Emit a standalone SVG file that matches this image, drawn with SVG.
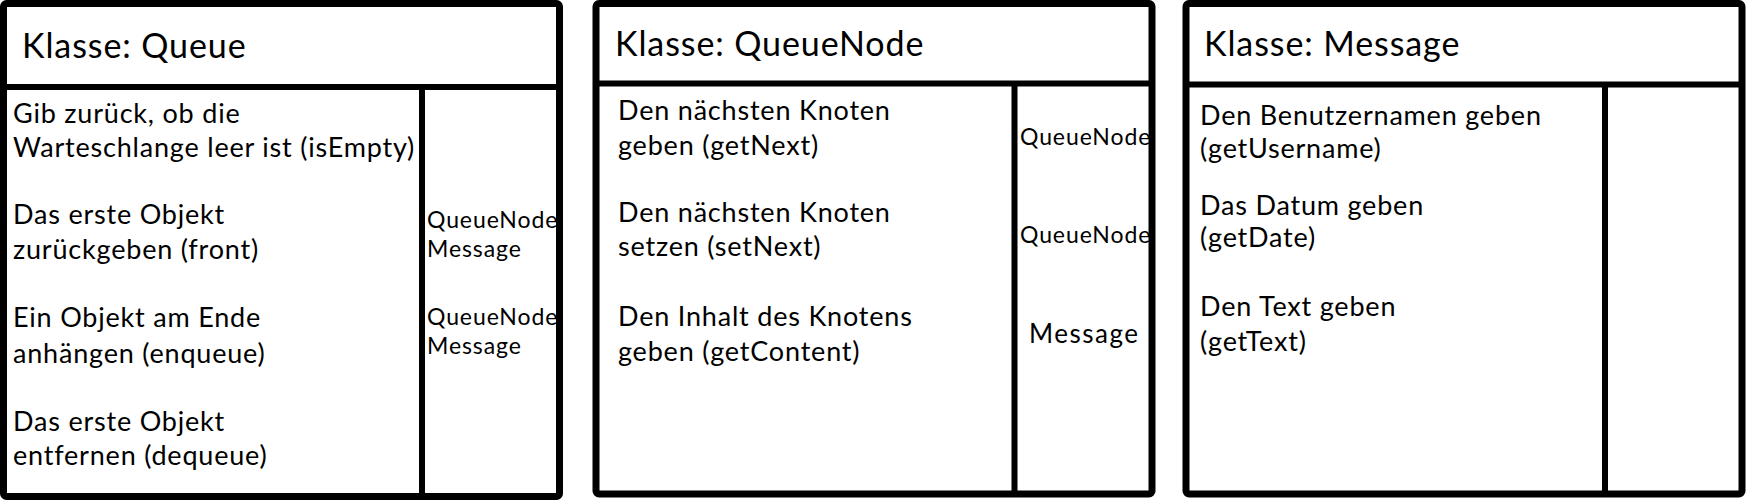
<svg xmlns="http://www.w3.org/2000/svg" width="1746" height="500" viewBox="0 0 1746 500">
<style>
.box{fill:#fff;stroke:#000;stroke-width:7;stroke-linejoin:round}
.div{stroke:#000;stroke-width:6;fill:none}
.title{font-family:Lato,"Liberation Sans",sans-serif;font-size:34px;letter-spacing:0.9px;fill:#000}
.body{font-family:Lato,"Liberation Sans",sans-serif;font-size:27px;letter-spacing:0.8px;fill:#000}
.type{font-family:Lato,"Liberation Sans",sans-serif;font-size:23px;letter-spacing:0.9px;fill:#000}
.type2{font-family:Lato,"Liberation Sans",sans-serif;font-size:26px;letter-spacing:1.5px;fill:#000}
</style>
<rect width="1746" height="500" fill="#fff"/>
<g id="queue">
<rect class="box" x="3.5" y="3.5" width="556" height="493" rx="3"/>
<line class="div" x1="3.5" y1="87" x2="559.5" y2="87"/>
<line class="div" x1="422" y1="87" x2="422" y2="496.5"/>
<text class="title" x="22" y="58">Klasse: Queue</text>
<text class="body" x="13" y="122.5">Gib zurück, ob die</text>
<text class="body" x="13" y="157">Warteschlange leer ist (isEmpty)</text>
<text class="body" x="13" y="224">Das erste Objekt</text>
<text class="body" x="13" y="259">zurückgeben (front)</text>
<text class="body" x="13" y="327">Ein Objekt am Ende</text>
<text class="body" x="13" y="363">anhängen (enqueue)</text>
<text class="body" x="13" y="431">Das erste Objekt</text>
<text class="body" x="13" y="465">entfernen (dequeue)</text>
<text class="type" x="427" y="228">QueueNode</text>
<text class="type" x="427" y="257">Message</text>
<text class="type" x="427" y="325">QueueNode</text>
<text class="type" x="427" y="354">Message</text>
</g>
<g id="queuenode">
<rect class="box" x="596" y="3.5" width="556" height="490.5" rx="3"/>
<line class="div" x1="596" y1="83.5" x2="1152" y2="83.5"/>
<line class="div" x1="1014.5" y1="83.5" x2="1014.5" y2="494"/>
<text class="title" x="615" y="56">Klasse: QueueNode</text>
<text class="body" x="618" y="120">Den nächsten Knoten</text>
<text class="body" x="618" y="155">geben (getNext)</text>
<text class="body" x="618" y="221.5">Den nächsten Knoten</text>
<text class="body" x="618" y="256">setzen (setNext)</text>
<text class="body" x="618" y="326">Den Inhalt des Knotens</text>
<text class="body" x="618" y="361">geben (getContent)</text>
<text class="type" x="1020" y="145">QueueNode</text>
<text class="type" x="1020" y="243">QueueNode</text>
<text class="type2" x="1029" y="343">Message</text>
</g>
<g id="message">
<rect class="box" x="1186" y="3.5" width="556" height="490.5" rx="3"/>
<line class="div" x1="1186" y1="84.5" x2="1742" y2="84.5"/>
<line class="div" x1="1605" y1="84.5" x2="1605" y2="494"/>
<text class="title" x="1204" y="56">Klasse: Message</text>
<text class="body" x="1200" y="124.5">Den Benutzernamen geben</text>
<text class="body" x="1200" y="158">(getUsername)</text>
<text class="body" x="1200" y="215">Das Datum geben</text>
<text class="body" x="1200" y="247">(getDate)</text>
<text class="body" x="1200" y="316">Den Text geben</text>
<text class="body" x="1200" y="351">(getText)</text>
</g>
<g id="connectors"></g>
</svg>
